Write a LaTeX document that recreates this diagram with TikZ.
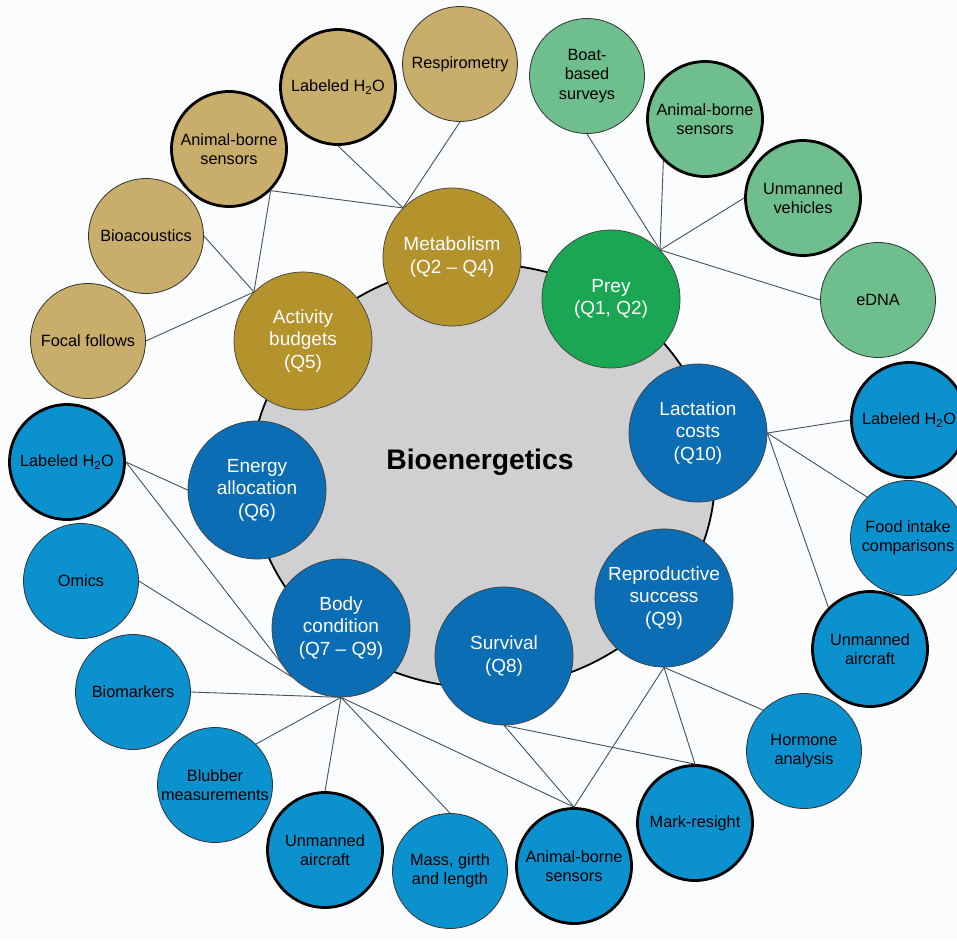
\documentclass[tikz,border=0pt]{standalone}
\usepackage{fontspec}
\setmainfont{Liberation Sans}
\definecolor{goldpale}{HTML}{C8AE6A}
\definecolor{golddeep}{HTML}{B4922C}
\definecolor{greenpale}{HTML}{6EBE8E}
\definecolor{greendeep}{HTML}{1AA653}
\definecolor{bluepale}{HTML}{0A91CE}
\definecolor{bluedeep}{HTML}{0B6DB3}
\definecolor{hubgray}{HTML}{D0D0D2}
\definecolor{wiregray}{HTML}{45505A}
\definecolor{paper}{HTML}{FBFCFD}

\begin{document}
\begin{tikzpicture}[x=1pt,y=-1pt,
    method/.style={circle,draw=black!80,line width=0.8pt,minimum size=115pt,inner sep=0pt,align=center,font=\fontsize{16.3}{19.5}\selectfont},
    heavy/.style={draw=black,line width=2.8pt},
    question/.style={circle,draw=black!75,line width=0.7pt,minimum size=138pt,inner sep=0pt,align=center,text=white,font=\fontsize{19}{22.5}\selectfont},
    wire/.style={draw=wiregray,line width=0.9pt}]
    \useasboundingbox (0,0) rectangle (957,940);
    \clip (0,0) rectangle (957,940);
    \fill[paper] (0,0) rectangle (957,940);
    \draw[fill=hubgray,line width=1.8pt] (483,476) ellipse [x radius=232, y radius=212];
    \node (title) at (480,462) {\fontsize{28.3}{34}\selectfont\bfseries Bioenergetics};

    \node[method,fill=goldpale] (resp) at (460,64) {Respirometry};
    \node[method,heavy,fill=goldpale] (goldwater) at (338,87) {Labeled H\textsubscript{2}O};
    \node[method,heavy,fill=goldpale] (goldtag) at (229,149) {Animal-borne\\sensors};
    \node[method,fill=goldpale] (bioac) at (146,236) {Bioacoustics};
    \node[method,fill=goldpale] (focal) at (88,341) {Focal follows};
    \node[question,fill=golddeep] (activity) at (303,341) {Activity\\budgets\\(Q5)};
    \node[question,fill=golddeep] (metab) at (452,257) {Metabolism\\(Q2 -- Q4)};

    \node[question,fill=greendeep] (prey) at (611,299) {Prey\\(Q1, Q2)};
    \node[method,fill=greenpale] (boat) at (587,76) {Boat-\\based\\surveys};
    \node[method,heavy,fill=greenpale] (greentag) at (705,119) {Animal-borne\\sensors};
    \node[method,heavy,fill=greenpale] (vehicles) at (803,198) {Unmanned\\vehicles};
    \node[method,fill=greenpale] (edna) at (878,300) {eDNA};

    \node[question,fill=bluedeep] (lact) at (698,433) {Lactation\\costs\\(Q10)};
    \node[question,fill=bluedeep] (repro) at (664,598) {Reproductive\\success\\(Q9)};
    \node[question,fill=bluedeep] (surv) at (504,656) {Survival\\(Q8)};
    \node[question,fill=bluedeep] (body) at (341,628) {Body\\condition\\(Q7 -- Q9)};
    \node[question,fill=bluedeep] (energy) at (257,490) {Energy\\allocation\\(Q6)};

    \node[method,heavy,fill=bluepale] (lwater) at (67,462) {Labeled H\textsubscript{2}O};
    \node[method,fill=bluepale] (omics) at (81,581) {Omics};
    \node[method,fill=bluepale] (biomark) at (133,692) {Biomarkers};
    \node[method,fill=bluepale] (blubber) at (215,785) {Blubber\\measurements};
    \node[method,heavy,fill=bluepale] (lcraft) at (325,850) {Unmanned\\aircraft};
    \node[method,fill=bluepale] (mass) at (450,871) {Mass, girth\\and length};
    \node[method,heavy,fill=bluepale] (bluetag) at (574,866) {Animal-borne\\sensors};
    \node[method,heavy,fill=bluepale] (resight) at (695,823) {Mark-resight};
    \node[method,fill=bluepale] (hormone) at (804,751) {Hormone\\analysis};
    \node[method,heavy,fill=bluepale] (rcraft) at (870,649) {Unmanned\\aircraft};
    \node[method,fill=bluepale] (food) at (908,538) {Food intake\\comparisons};
    \node[method,heavy,fill=bluepale] (rwater) at (909,420) {Labeled H\textsubscript{2}O};

    \foreach \t in {resp.south,goldwater.south,goldtag.south east}
    \draw[wire] (metab.north west) -- (\t);
    \foreach \t in {goldtag.south east,bioac.east,focal.east}
    \draw[wire] (activity.north west) -- (\t);
    \foreach \t in {boat.south,greentag.south west,vehicles.west,edna.west}
    \draw[wire] (prey.north east) -- (\t);
    \foreach \t in {rwater.west,food.north west,rcraft.north west}
    \draw[wire] (lact.east) -- (\t);
    \foreach \t in {hormone.north west,resight.north,bluetag.north}
    \draw[wire] (repro.south) -- (\t);
    \foreach \t in {resight.north,bluetag.north}
    \draw[wire] (surv.south) -- (\t);
    \foreach \t in {biomark.east,blubber.north east,lcraft.north,mass.north,bluetag.north}
    \draw[wire] (body.south) -- (\t);
    \foreach \t in {lwater.east,omics.east}
    \draw[wire] (body.south west) -- (\t);
    \draw[wire] (energy.west) -- (lwater.east);
\end{tikzpicture}
\end{document}
